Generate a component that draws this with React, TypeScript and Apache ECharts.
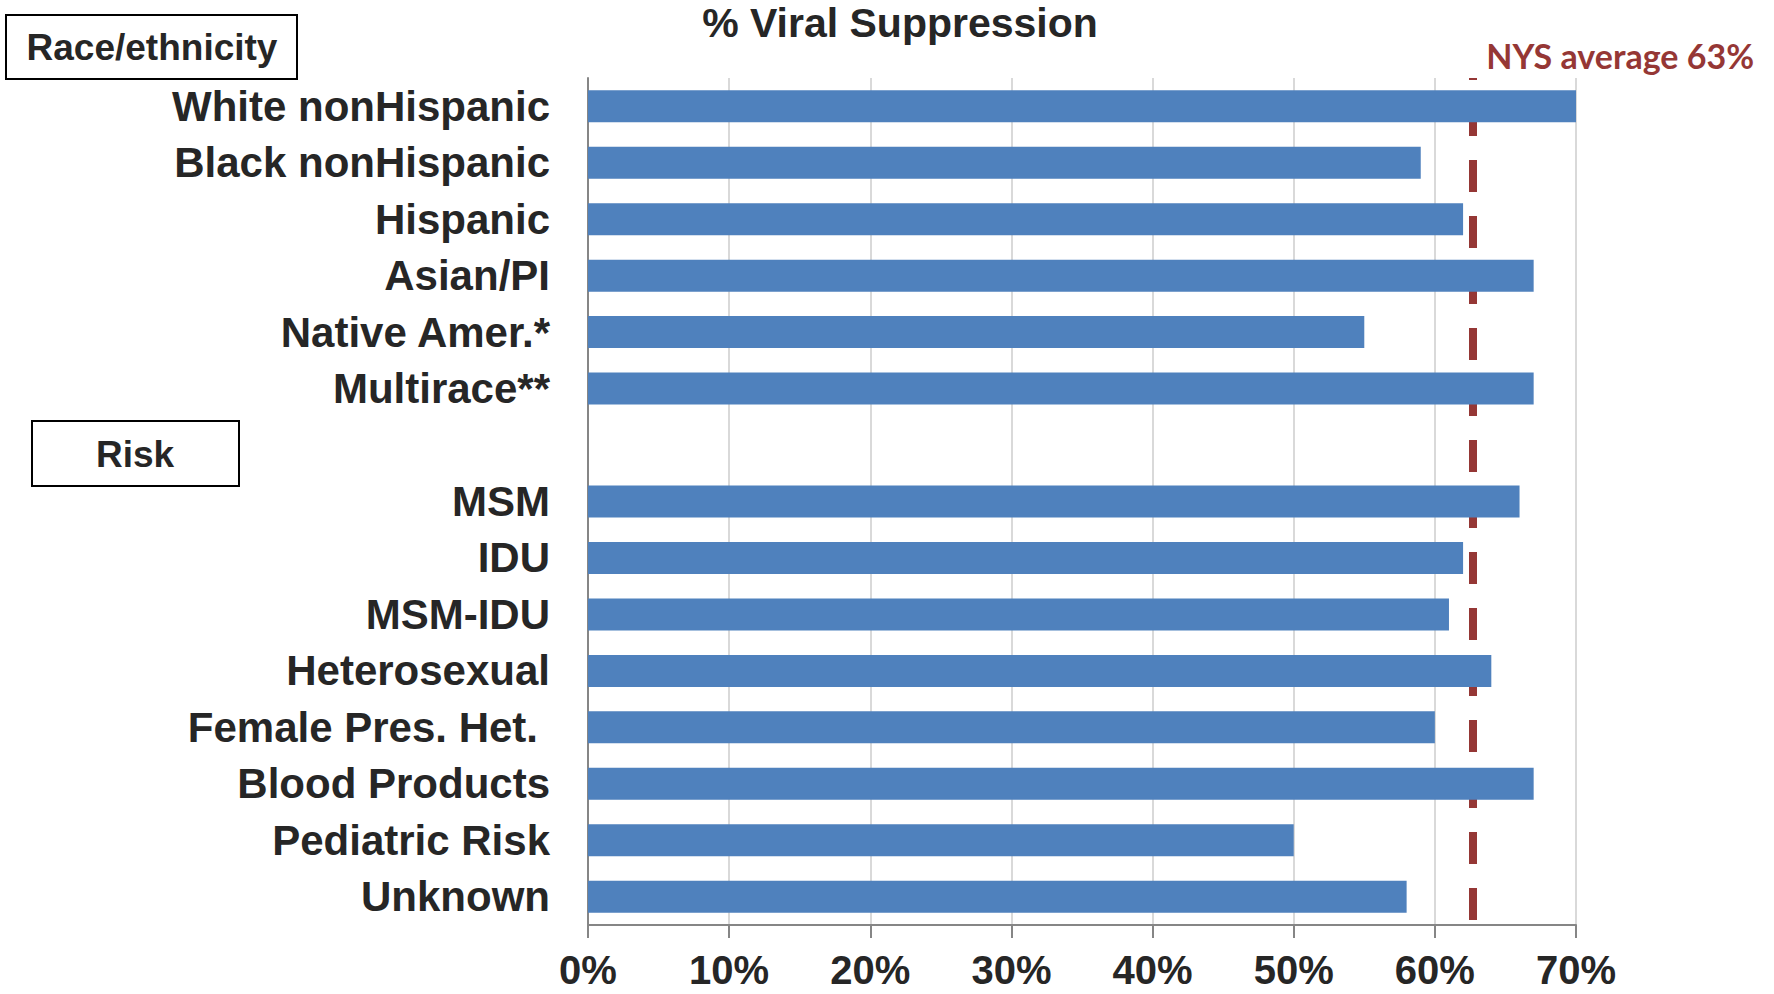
import React, { useEffect, useRef } from 'react';
import * as echarts from 'echarts';

// ---- data ----
const raceCategories = [
  'White nonHispanic',
  'Black nonHispanic',
  'Hispanic',
  'Asian/PI',
  'Native Amer.*',
  'Multirace**',
];
const raceValues = [70, 59, 62, 67, 55, 67];

const riskCategories = [
  'MSM',
  'IDU',
  'MSM-IDU',
  'Heterosexual',
  'Female Pres. Het.',
  'Blood Products',
  'Pediatric Risk',
  'Unknown',
];
const riskValues = [66, 62, 61, 64, 60, 67, 50, 58];

const nysAverage = 62.7; // position of dashed line as drawn
const nysLabel = 'NYS average 63%';
const chartTitle = '% Viral Suppression';
const groupLabels = ['Race/ethnicity', 'Risk'];
const xMin = 0;
const xMax = 70;
const xInterval = 10;

const FONT = '"Liberation Sans", Arial, Helvetica, sans-serif';
const TEXT = '#262626';
const BAR = '#4f81bd';
const RED = '#953735';

export default function App() {
  const ref = useRef<HTMLDivElement>(null);

  useEffect(() => {
    if (!ref.current) return;
    const chart = echarts.init(ref.current, null, { renderer: 'svg' });
    const categories = [...raceCategories, '', ...riskCategories];
    const values: (number | null)[] = [...raceValues, null, ...riskValues];

    const textStyle = (size: number, color = TEXT, family = FONT) => ({
      fontSize: size,
      fontWeight: 'bold',
      fontFamily: family,
      fill: color,
    });

    chart.setOption({
      animation: false,
      grid: { left: 588, right: 198, top: 78, bottom: 69, containLabel: false },
      xAxis: {
        type: 'value',
        min: xMin,
        max: xMax,
        interval: xInterval,
        axisLine: { show: true, lineStyle: { color: '#868686', width: 2 } },
        axisTick: { show: true, length: 13, lineStyle: { color: '#868686', width: 2 } },
        splitLine: { show: true, lineStyle: { color: '#d9d9d9', width: 2 } },
        axisLabel: {
          formatter: '{value}%',
          fontSize: 40,
          lineHeight: 36,
          fontWeight: 'bold',
          fontFamily: FONT,
          color: TEXT,
          margin: 27,
        },
      },
      yAxis: {
        type: 'category',
        inverse: true,
        data: categories,
        axisLine: { show: true, lineStyle: { color: '#868686', width: 2 } },
        axisTick: { show: false },
        splitLine: { show: false },
        axisLabel: {
          interval: 0,
          fontSize: 42,
          fontWeight: 'bold',
          fontFamily: FONT,
          color: TEXT,
          margin: 38,
          formatter: (v: string) => (v === 'Female Pres. Het.' ? '{p|' + v + '}' : v),
          rich: {
            p: {
              fontSize: 42,
              fontWeight: 'bold',
              fontFamily: FONT,
              color: TEXT,
              padding: [0, 12, 0, 0],
            },
          },
        },
      },
      series: [
        {
          type: 'bar',
          data: values,
          barWidth: 32,
          z: 2,
          itemStyle: { color: BAR },
          markLine: {
            silent: true,
            z: 1,
            symbol: 'none',
            label: { show: false },
            lineStyle: { color: RED, width: 8, type: [32, 24], dashOffset: 30, opacity: 1 },
            data: [{ xAxis: nysAverage }],
          },
        },
      ],
      graphic: [
        {
          type: 'text',
          x: 900,
          y: 23,
          style: { text: chartTitle, align: 'center', verticalAlign: 'middle', textAlign: 'center', textVerticalAlign: 'middle', lineHeight: 40, ...textStyle(41) },
        },
        {
          type: 'text',
          x: 1754,
          y: 55,
          style: { text: nysLabel, align: 'right', verticalAlign: 'middle', textAlign: 'right', textVerticalAlign: 'middle', ...textStyle(34, RED, 'Lato, "Open Sans", sans-serif') },
        },
        {
          type: 'rect',
          shape: { x: 6, y: 15, width: 291, height: 64 },
          style: { fill: '#ffffff', stroke: '#000000', lineWidth: 2 },
        },
        {
          type: 'text',
          x: 152,
          y: 47.5,
          style: { text: groupLabels[0], align: 'center', verticalAlign: 'middle', textAlign: 'center', textVerticalAlign: 'middle', ...textStyle(37) },
        },
        {
          type: 'rect',
          shape: { x: 32, y: 421, width: 207, height: 65 },
          style: { fill: '#ffffff', stroke: '#000000', lineWidth: 2 },
        },
        {
          type: 'text',
          x: 135,
          y: 454,
          style: { text: groupLabels[1], align: 'center', verticalAlign: 'middle', textAlign: 'center', textVerticalAlign: 'middle', ...textStyle(37) },
        },
      ],
    });

    return () => chart.dispose();
  }, []);

  return (
    <div
      ref={ref}
      style={{ position: 'absolute', left: 0, top: 0, width: 1774, height: 994 }}
    />
  );
}
